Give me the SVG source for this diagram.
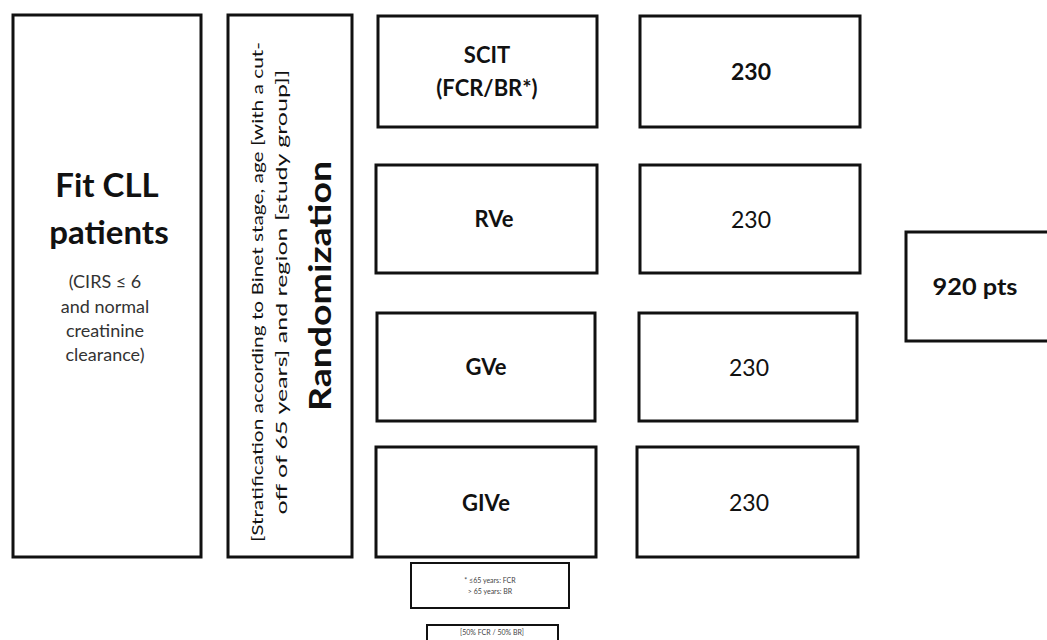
<svg xmlns="http://www.w3.org/2000/svg" width="1047" height="640" viewBox="0 0 1047 640">
<style>
.box{fill:#fff;stroke:#111;stroke-width:3}
.sbox{fill:#fff;stroke:#111;stroke-width:2}
text{font-family:Lato,"Open Sans","Liberation Sans",sans-serif;fill:#111;text-anchor:middle}
.b{font-weight:bold}
.m{font-size:22px}
.n{font-size:23px}
.s{font-size:18px;fill:#333}
.xs{font-size:7px;fill:#444}
</style>
<rect width="1047" height="640" fill="#fff"/>
<g id="fit">
<rect class="box" x="13" y="15" width="188" height="542"/>
<text class="b" x="107" y="197" font-size="33">Fit CLL</text>
<text class="b" x="109" y="244" font-size="33">patients</text>
<text class="s" x="105" y="288">(CIRS ≤ 6</text>
<text class="s" x="105" y="313">and normal</text>
<text class="s" x="105" y="337">creatinine</text>
<text class="s" x="105" y="361">clearance)</text>
</g>
<g id="randomization">
<rect class="box" x="228" y="15" width="124" height="542"/>
<g transform="translate(290,292) rotate(-90)">
<text x="0" y="-27" font-size="16" fill="#444" textLength="500" lengthAdjust="spacingAndGlyphs">[Stratification according to Binet stage, age [with a cut-</text>
<text x="0" y="-3" font-size="16" fill="#444" textLength="445" lengthAdjust="spacingAndGlyphs">off of 65 years] and region [study group]]</text>
</g>
<text class="b" transform="translate(331,286) rotate(-90)" x="0" y="0" font-size="30" textLength="250" lengthAdjust="spacingAndGlyphs">Randomization</text>
</g>
<g id="scit">
<rect class="box" x="378" y="16" width="219" height="111"/>
<text class="b m" x="487" y="63">SCIT</text>
<text class="b m" x="487" y="96">(FCR/BR*)</text>
</g>
<g id="n1">
<rect class="box" x="640" y="16" width="220" height="111"/>
<text class="b n" x="751" y="80">230</text>
</g>
<g id="rve">
<rect class="box" x="376" y="165" width="221" height="108"/>
<text class="b m" x="494" y="227">RVe</text>
</g>
<g id="n2">
<rect class="box" x="640" y="165" width="220" height="108"/>
<text class="n" x="751" y="228">230</text>
</g>
<g id="gve">
<rect class="box" x="377" y="313" width="218" height="108"/>
<text class="b m" x="486" y="375">GVe</text>
</g>
<g id="n3">
<rect class="box" x="639" y="313" width="218" height="108"/>
<text class="n" x="749" y="376">230</text>
</g>
<g id="give">
<rect class="box" x="376" y="447" width="220" height="110"/>
<text class="b m" x="486" y="511">GIVe</text>
</g>
<g id="n4">
<rect class="box" x="637" y="447" width="221" height="110"/>
<text class="n" x="749" y="511">230</text>
</g>
<g id="total">
<rect class="box" x="906" y="232" width="145" height="109"/>
<text class="b" x="975" y="295" font-size="22" textLength="85" lengthAdjust="spacingAndGlyphs">920 pts</text>
</g>
<g id="footnote1">
<rect class="sbox" x="411" y="563" width="158" height="45"/>
<text class="xs" x="490" y="583">* ≤65 years: FCR</text>
<text class="xs" x="490" y="594">&gt; 65 years: BR</text>
</g>
<g id="footnote2">
<rect class="sbox" x="427" y="625" width="131" height="20"/>
<text class="xs" x="492" y="635">[50% FCR / 50% BR]</text>
</g>
<g id="connectors"/>
</svg>
